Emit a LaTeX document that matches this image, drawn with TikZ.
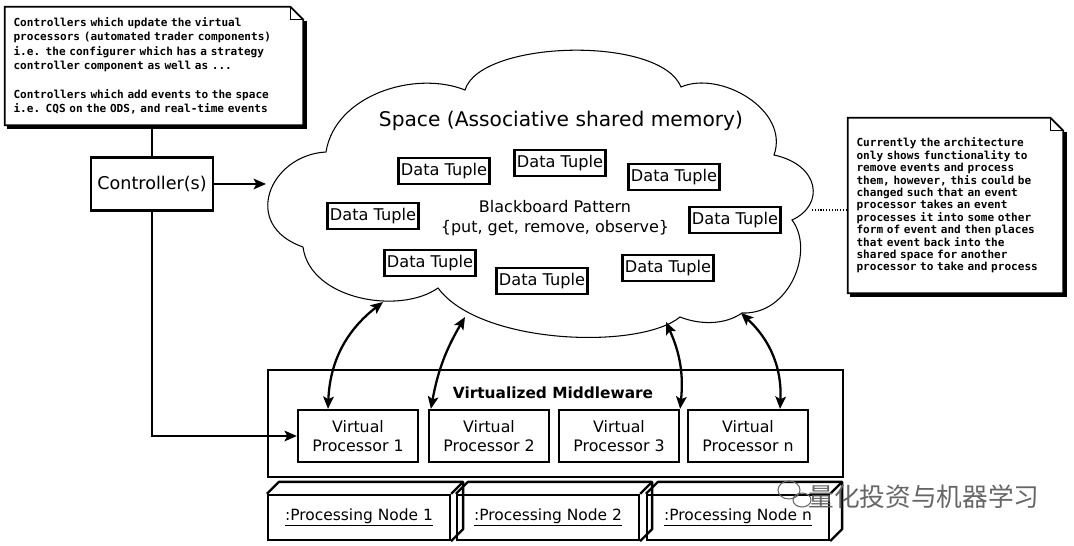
\documentclass[tikz,border=0pt]{standalone}
\usepackage{fontspec}
\setmainfont{DejaVu Sans}
\newfontfamily\notefont{DejaVu Sans Mono}
\newfontfamily\cjk{Noto Sans CJK SC}
\usetikzlibrary{calc}
\usetikzlibrary{arrows.meta}

\begin{document}
\begin{tikzpicture}[x=0.02cm, y=-0.02cm,
  box/.style={draw, line width=1.3pt, inner sep=0pt, align=center},
  tuple/.style={box, minimum width=1.82cm, minimum height=0.52cm, font=\fontsize{9.2}{10}\selectfont},
  vproc/.style={box, minimum width=2.4cm, minimum height=1.04cm, font=\fontsize{9}{10.8}\selectfont},
  pnode/.style={box, minimum width=3.64cm, minimum height=0.9cm, font=\fontsize{8.8}{10}\selectfont},
  note/.style={inner xsep=0.17cm, inner ysep=0pt, align=left, font=\notefont\bfseries\fontsize{6.3}{8.2}\selectfont},
  line/.style={line width=1.3pt, ->, >={Stealth[length=7pt, width=6pt, inset=1.5pt]}},
  link/.style={line, <->}]
\useasboundingbox (0,0) rectangle (1074,546);
\node[note, text width=5.62cm, minimum height=2.36cm] (nl) at (154,66) {Controllers which update the virtual\\processors (automated trader components)\\i.e. the configurer which has a strategy\\controller component as well as ...\\[8.2pt]Controllers which add events to the space\\i.e. CQS on the ODS, and real-time events};
\node[note, text width=3.96cm, minimum height=3.5cm, font=\notefont\bfseries\fontsize{6.3}{7.05}\selectfont] (nr) at (955.5,205.5) {Currently the architecture\\only shows functionality to\\remove events and process\\them, however, this could be\\changed such that an event\\processor takes an event\\processes it into some other\\form of event and then places\\that event back into the\\shared space for another\\processor to take and process};
\foreach \n in {nl,nr}{
  \draw[line width=1pt] (\n.north west) -- ($(\n.north east)+(-13,0)$) -- ($(\n.north east)+(0,13)$) -- (\n.south east) -- (\n.south west) -- cycle;
  \draw[line width=0.6pt] ($(\n.north east)+(-13,0)$) -- ($(\n.north east)+(-13,13)$) -- ($(\n.north east)+(0,13)$);
  \draw[line width=1.4pt] ($(\n.north east)+(2,14)$) -- ($(\n.south east)+(2,2)$) -- ($(\n.south west)+(2,2)$);
}
\draw[line width=0.6pt] (303,247) .. controls (240,225) and (270,155) .. (326,152) .. controls (335,95) and (415,70) .. (465,90) .. controls (480,40) and (660,35) .. (681,87) .. controls (720,70) and (790,110) .. (774,155) .. controls (820,165) and (825,205) .. (792,220) .. controls (815,250) and (790,315) .. (742,313) .. controls (725,325) and (700,325) .. (680,317) .. controls (640,350) and (480,345) .. (438,288) .. controls (400,315) and (310,300) .. (303,247);
\node[font=\fontsize{11.5}{13}\selectfont] (space) at (561,121) {Space (Associative shared memory)};
\node[align=center, font=\fontsize{9.1}{11.3}\selectfont] (bb) at (555,218) {Blackboard Pattern\\\{put, get, remove, observe\}};
\foreach \i/\x/\y in {1/444/171, 2/560/163, 3/674/177, 4/373/216, 5/735/220, 6/430/263, 7/542/281, 8/668/268}
  \node[tuple] (dt\i) at (\x,\y) {Data Tuple};
\node[box, minimum width=2.44cm, minimum height=1.06cm, font=\fontsize{10}{11}\selectfont] (ctrl) at (152,184) {Controller(s)};
\node[draw, line width=1.3pt, minimum width=11.5cm, minimum height=2.14cm] (mw) at (555.5,423.5) {};
\node[font=\bfseries\fontsize{8.75}{10}\selectfont] (mwt) at (553,393) {Virtualized Middleware};
\node[vproc] (vp1) at (358,436) {Virtual\\Processor 1};
\node[vproc] (vp2) at (489,436) {Virtual\\Processor 2};
\node[vproc] (vp3) at (619,436) {Virtual\\Processor 3};
\node[vproc] (vpn) at (748,436) {Virtual\\Processor n};
\foreach \i/\x/\t in {1/359/1, 2/548/2, 3/738/n}{
  \node[pnode] (pn\i) at (\x,517.5) {\underline{:Processing Node \t}};
  \draw[line width=1.3pt, line join=round] (pn\i.north west) -- ++(12,-12) -- ($(pn\i.north east)+(12,-12)$) -- ($(pn\i.south east)+(12,-12)$) -- (pn\i.south east);
  \draw[line width=1.3pt] (pn\i.north east) -- ++(12,-12);
}
\coordinate (cin) at (266,184);
\coordinate (c1) at (383,302);
\coordinate (c2) at (465,317);
\coordinate (c3) at (666,322);
\coordinate (c4) at (741,313);
\coordinate (sp) at (812,210);
\draw[line width=1.3pt] (ctrl.north |- nl.south) -- (ctrl.north);
\draw[line] (ctrl.east) -- (cin);
\draw[line] (ctrl.south) |- (vp1.west);
\draw[link] (c1) to[bend right=25] ($(vp1.north)+(-30,0)$);
\draw[link] (c2) to[bend right=10] ($(vp2.north west)+(3,0)$);
\draw[link] (c3) to[bend left=15] (vp3.north east);
\draw[link] (c4) to[bend left=25] ($(vpn.north)+(32,0)$);
\draw[densely dotted, line width=0.6pt] (sp) -- (sp -| nr.west);
\draw[black!60, line width=0.6pt] (789,490) ellipse [x radius=11, y radius=9];
\draw[black!60, line width=0.6pt] (802,500) ellipse [x radius=9, y radius=7];
\node[font=\cjk\fontsize{14.6}{16}\selectfont, text=black!60] (wm) at (924,497) {量化投资与机器学习};
\end{tikzpicture}
\end{document}
